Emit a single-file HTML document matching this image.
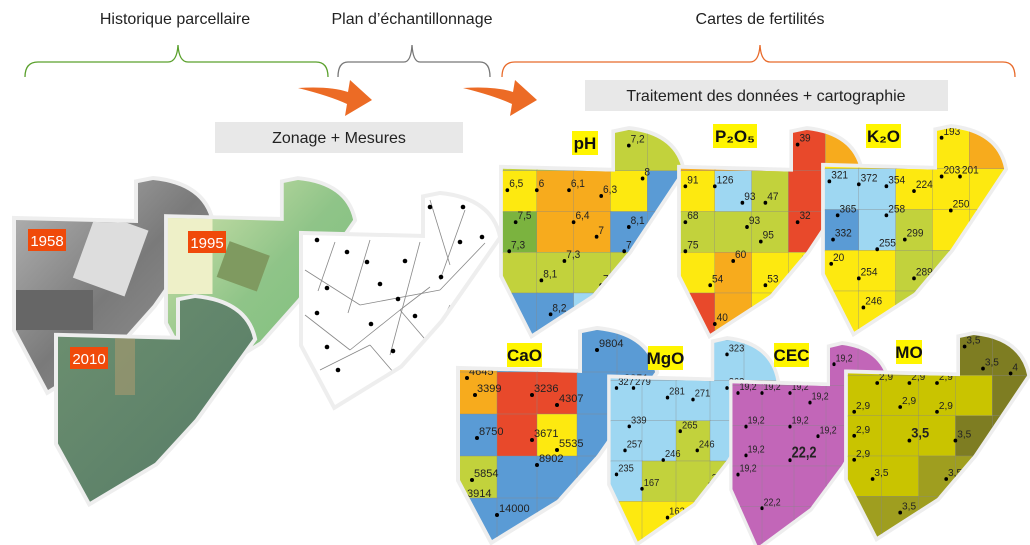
<!DOCTYPE html>
<html><head><meta charset="utf-8">
<style>
body{margin:0;background:#fff;width:1030px;height:545px;overflow:hidden;font-family:"Liberation Sans",sans-serif;}
svg{position:absolute;left:0;top:0}
</style></head>
<body>
<svg id="s" width="1030" height="545" viewBox="0 0 1030 545" xmlns="http://www.w3.org/2000/svg" font-family="Liberation Sans, sans-serif">
<defs>
<clipPath id="sh"><path d="M3,40 L125,43 L125,3 L140,0 Q190,5 198,42 L140,125 L100,170 L35,210 L3,150 Z"/></clipPath>
<linearGradient id="g58" x1="0" y1="0" x2="1" y2="1"><stop offset="0" stop-color="#b8b8b8"/><stop offset="0.5" stop-color="#7a7a7a"/><stop offset="1" stop-color="#9a9a9a"/></linearGradient>
<linearGradient id="g95" x1="0" y1="0" x2="1" y2="1"><stop offset="0" stop-color="#d8e6b0"/><stop offset="0.5" stop-color="#8fc488"/><stop offset="1" stop-color="#7bbf7a"/></linearGradient>
<linearGradient id="g10" x1="0" y1="0" x2="1" y2="1"><stop offset="0" stop-color="#6d9070"/><stop offset="1" stop-color="#557a66"/></linearGradient>
</defs>
<g font-size="16" fill="#222">
<text x="175" y="24" text-anchor="middle">Historique parcellaire</text>
<text x="412" y="24" text-anchor="middle">Plan d’échantillonnage</text>
<text x="760" y="24" text-anchor="middle">Cartes de fertilités</text>
</g>
<g fill="none" stroke-width="1.3">
<path d="M25,77 Q25,62 38,62 L168,62 Q177,62 178,45 Q179,62 188,62 L316,62 Q328,62 328,77" stroke="#5aa02c"/>
<path d="M338,77 Q338,62 348,62 L404,62 Q411,62 412,45 Q413,62 420,62 L480,62 Q490,62 490,77" stroke="#777"/>
<path d="M502,77 Q502,62 515,62 L750,62 Q759,62 760,45 Q761,62 770,62 L1003,62 Q1015,62 1015,77" stroke="#e86a2a"/>
</g>
<g fill="#ec6b25">
<path d="M298,88 Q330,86 348,92 L350,80 L372,100 L345,116 L347,104 Q330,96 298,88 Z"/>
<path d="M463,88 Q495,86 513,92 L515,80 L537,100 L510,116 L512,104 Q495,96 463,88 Z"/>
</g>
<rect x="215" y="122" width="248" height="31" fill="#e8e8e8"/>
<text x="339" y="143" font-size="16" text-anchor="middle" fill="#222">Zonage + Mesures</text>
<rect x="585" y="80" width="363" height="31" fill="#e8e8e8"/>
<text x="766" y="101" font-size="16" text-anchor="middle" fill="#222">Traitement des données + cartographie</text>
<g id="maps"></g>
</svg>
<script>
const S="M3,40 L125,43 L125,3 L140,0 Q190,5 198,42 L140,125 L100,170 L35,210 L3,150 Z";
const g=document.getElementById('maps');
let h='';
function photo(x,y,sx,sy,fill,extra){
 h+=`<g transform="translate(${x},${y}) scale(${sx},${sy})"><path d="${S}" fill="none" stroke="#eee" stroke-width="8"/><g clip-path="url(#sh)"><rect width="200" height="215" fill="${fill}"/>${extra}</g></g>`;
}
photo(13,180,1,1,'url(#g58)','<rect x="70" y="40" width="55" height="70" fill="#ddd" transform="rotate(20 100 75)"/><rect x="0" y="110" width="80" height="40" fill="#666"/>');
photo(165,180,0.95,0.95,'url(#g95)','<rect x="0" y="40" width="50" height="80" fill="#eef0c8"/><rect x="60" y="70" width="45" height="40" fill="#7f9a60" transform="rotate(20 80 90)"/>');
photo(55,298,1,0.97,'url(#g10)','<rect x="60" y="40" width="20" height="60" fill="#a89a70" opacity=".6"/>');
// sampling map
let w='';
const dots=[[17,45],[47,57],[67,67],[105,66],[117,35],[130,12],[163,12],[160,47],[182,42],[27,93],[80,89],[98,104],[141,82],[17,118],[71,129],[115,121],[27,152],[93,156],[38,175]];
const lines=[[5,75,60,110],[60,110,140,95],[140,95,185,48],[5,120,50,155],[50,155,100,115],[100,115,130,92],[35,47,18,96],[70,45,48,118],[120,47,90,160],[20,175,70,150],[70,150,100,185],[100,115,130,150],[130,150,150,110],[130,5,150,70],[165,15,140,85]];
photo(300,195,1,1,'#fff',lines.map(l=>`<line x1="${l[0]}" y1="${l[1]}" x2="${l[2]}" y2="${l[3]}" stroke="#888" stroke-width=".8"/>`).join('')+dots.map(d=>`<circle cx="${d[0]}" cy="${d[1]}" r="2.3" fill="#000"/>`).join(''));
const C={Y:'#fde910',O:'#f7ab1d',G:'#c2d23c',V:'#7bb33f',B:'#5a9bd5',L:'#9ed7f2',R:'#e8492b',M:'#c266b8',N:'#c9c400',D:'#7e7d22',E:'#9f9e1f',_:'#fff'};
function cmap(x,y,sx,sy,rows,nums,label,lx,ly){
 let c='';
 rows.forEach((r,i)=>{[...r].forEach((k,j)=>{c+=`<rect x="${j*40}" y="${i*42}" width="41" height="43" fill="${C[k]}" stroke="#888" stroke-width=".4"/>`;});});
 nums.forEach(n=>{c+=`<circle cx="${n[0]}" cy="${n[1]}" r="2" fill="#000"/><text x="${n[0]+2}" y="${n[1]-3}" font-size="${n[3]||11}" fill="#222" ${n[3]?'font-weight="bold"':''}>${n[2]}</text>`;});
 h+=`<g transform="translate(${x},${y}) scale(${sx},${sy})"><path d="${S}" fill="none" stroke="#eee" stroke-width="8"/><g clip-path="url(#sh)">${c}</g></g>`;
 const tw=label.length*9+8;
 h+=`<rect x="${lx}" y="${ly}" width="${tw}" height="24" fill="#fff500"/><text x="${lx+tw/2}" y="${ly+18}" font-size="17" font-weight="bold" text-anchor="middle" fill="#111">${label}</text>`;
}
cmap(500,130,0.92,0.97,['GGGGG','YOOYB','VOOBB','GGGGB','BBLLL'],[[8,62,'6,5'],[40,62,'6'],[75,62,'6,1'],[110,68,'6,3'],[140,16,'7,2'],[155,50,'8'],[17,95,'7,5'],[80,95,'6,4'],[105,110,'7'],[140,100,'8,1'],[10,125,'7,3'],[70,135,'7,3'],[135,125,'7,3'],[45,155,'8,1'],[110,160,'7,9'],[55,190,'8,2']],'pH',572,131);
cmap(678,130,0.92,0.97,['OOORO','YLGRO','GGGRR','YOYYO','ROYYY'],[[8,58,'91'],[40,58,'126'],[70,75,'93'],[95,75,'47'],[130,15,'39'],[8,95,'68'],[75,100,'93'],[90,115,'95'],[130,95,'32'],[8,125,'75'],[60,135,'60'],[130,140,'47'],[35,160,'54'],[95,160,'53'],[40,200,'40']],'P₂O₅',713,124);
cmap(822,128,0.92,0.97,['YYYYO','LLYYY','BLGYY','YYGGY','YYGYY'],[[8,55,'321'],[40,58,'372'],[70,60,'354'],[100,65,'224'],[130,10,'193'],[150,50,'201'],[130,50,'203'],[17,90,'365'],[70,90,'258'],[140,85,'250'],[12,115,'332'],[90,115,'299'],[60,125,'255'],[10,140,'20'],[40,155,'254'],[100,155,'289'],[45,185,'246']],'K₂O',866,124);
cmap(457,330,1.0,1.0,['OBBBB','ORRBB','BRYBB','GBBBB','BBBBB'],[[10,48,'4645'],[18,65,'3399'],[75,65,'3236'],[100,75,'4307'],[140,20,'9804'],[165,55,'3851'],[20,108,'8750'],[75,110,'3671'],[100,120,'5535'],[15,150,'5854'],[80,135,'8902'],[165,105,'152'],[8,170,'3914'],[40,185,'14000'],[160,155,'117'],[60,210,'1468'],[150,185,'144']],'CaO',507,343);
cmap(608,340,0.85,0.96,['LLLLL','LLLLL','LLGLB','LGGGL','YYYYY'],[[10,50,'327'],[30,50,'279'],[70,60,'281'],[100,62,'271'],[140,15,'323'],[140,50,'263'],[25,90,'339'],[85,95,'265'],[105,115,'246'],[20,115,'257'],[65,125,'246'],[160,115,'31'],[10,140,'235'],[40,155,'167'],[120,150,'23'],[70,185,'162']],'MgO',648,346);
cmap(730,345,0.8,0.96,['MMMMM','MMMMM','MMMMM','MMMMM','MMMMM'],[[10,50,'19,2'],[40,50,'19,2'],[75,50,'19,2'],[100,60,'19,2'],[130,20,'19,2'],[20,85,'19,2'],[75,85,'19,2'],[110,95,'19,2'],[20,115,'19,2'],[75,120,'22,2',16],[10,135,'19,2'],[40,170,'22,2'],[130,150,'22'],[70,205,'22,2']],'CEC',774,343);
cmap(845,335,0.92,0.96,['NNNDD','NNNND','NNNDD','NNEEE','EEEEE'],[[5,8,'22,2'],[35,50,'2,9'],[70,50,'2,9'],[100,50,'2,9'],[150,35,'3,5'],[130,12,'3,5'],[180,40,'4'],[10,80,'2,9'],[60,75,'2,9'],[100,80,'2,9'],[10,105,'2,9'],[70,110,'3,5',14],[120,110,'3,5'],[10,130,'2,9'],[30,150,'3,5'],[110,150,'3,5'],[60,185,'3,5']],'MO',896,340);
g.innerHTML=h;
// year labels
g.innerHTML+=`<rect x="28" y="229" width="38" height="22" fill="#f04a0a"/><text x="47" y="246" font-size="15" fill="#fff" text-anchor="middle">1958</text>
<rect x="188" y="231" width="38" height="22" fill="#f04a0a"/><text x="207" y="248" font-size="15" fill="#fff" text-anchor="middle">1995</text>
<rect x="70" y="347" width="38" height="22" fill="#f04a0a"/><text x="89" y="364" font-size="15" fill="#fff" text-anchor="middle">2010</text>`;
</script>
</body></html>
